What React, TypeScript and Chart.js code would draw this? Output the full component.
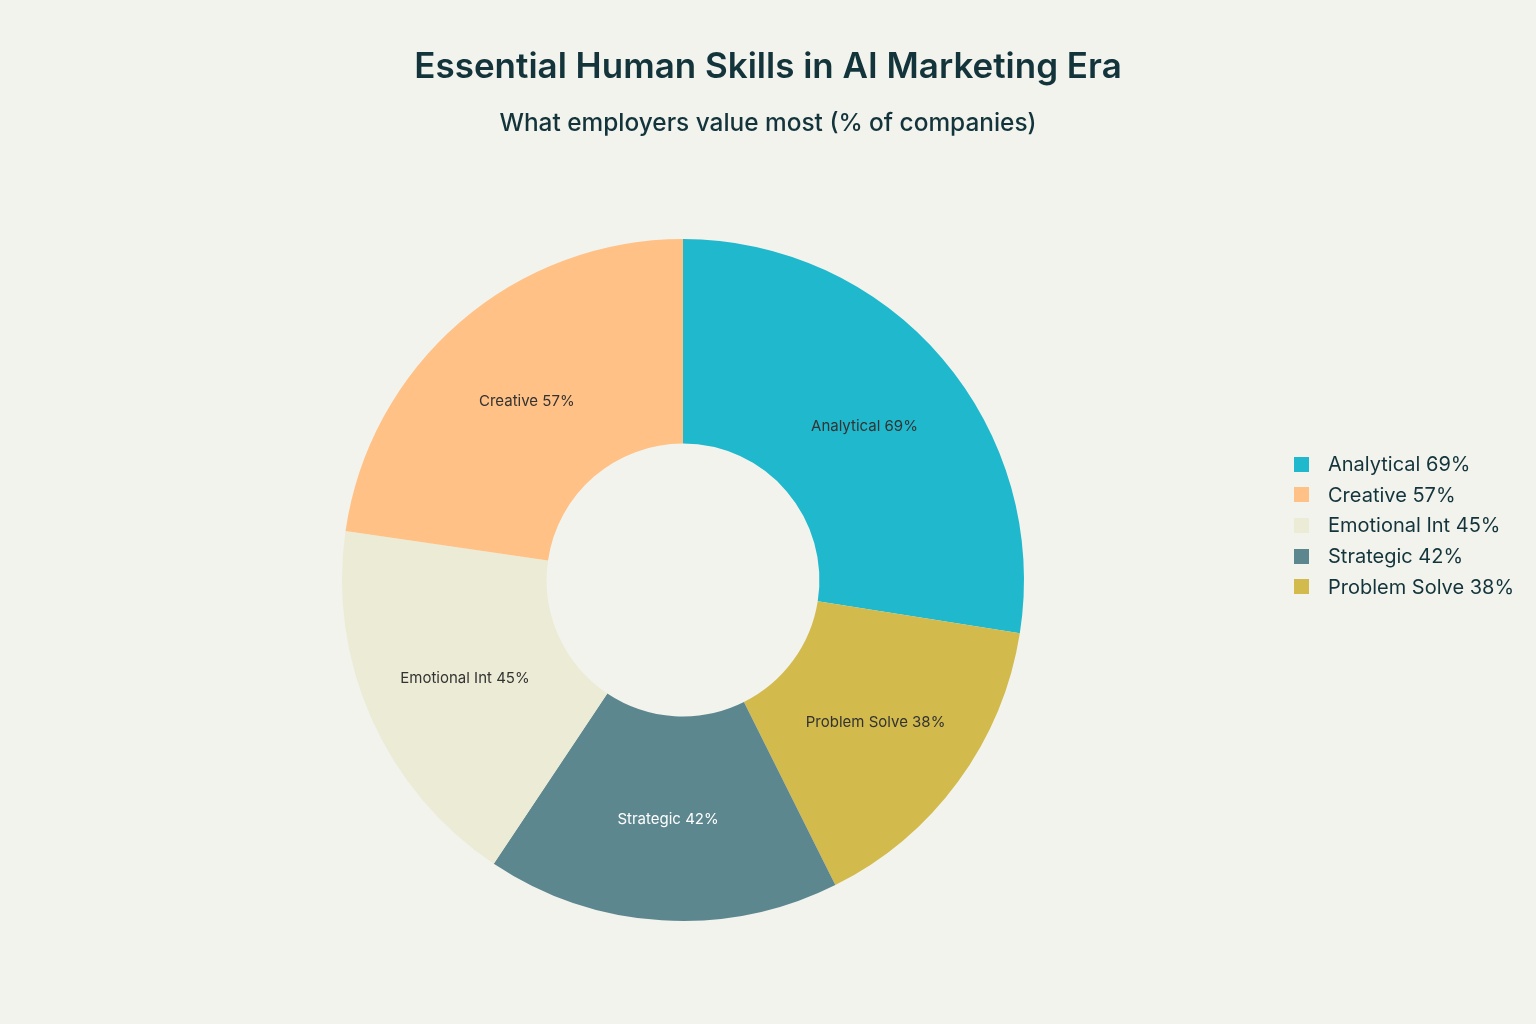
import { useEffect, useRef } from "react";
import { Chart } from "chart.js/auto";

// Legend order (sorted by share, as in the source)
const skills = ["Analytical", "Creative", "Emotional Int", "Strategic", "Problem Solve"];
const percents = [69, 57, 45, 42, 38];
const colors = ["#1FB8CD", "#FFC185", "#ECEBD5", "#5D878F", "#D2BA4C"];
const labelColors = ["#333333", "#333333", "#333333", "#FFFFFF", "#333333"];

// Clockwise drawing order from 12 o'clock (indices into the arrays above)
const sliceOrder = [0, 4, 3, 2, 1];

const TITLE = "Essential Human Skills in AI Marketing Era";
const SUBTITLE = "What employers value most (% of companies)";

const BG = "#F3F3EE";
const TEXT = "#13343B";

// labels in the middle of each slice
const sliceLabels = {
  id: "sliceLabels",
  afterDatasetsDraw(chart: Chart) {
    const { ctx } = chart;
    const meta = chart.getDatasetMeta(0);
    ctx.save();
    ctx.font = "15px Inter, 'Open Sans', sans-serif";
    ctx.textAlign = "center";
    ctx.textBaseline = "middle";
    meta.data.forEach((arc: any, i: number) => {
      const idx = sliceOrder[i];
      const p = arc.getCenterPoint();
      ctx.fillStyle = labelColors[idx];
      ctx.fillText(`${skills[idx]} ${percents[idx]}%`, p.x, p.y + 1.5);
    });
    ctx.restore();
  },
};

// title + subtitle centred on the whole canvas (the built-in ones follow the padded area)
const headings = {
  id: "headings",
  afterDraw(chart: Chart) {
    const { ctx, width } = chart;
    ctx.save();
    ctx.textAlign = "center";
    ctx.textBaseline = "middle";
    ctx.fillStyle = TEXT;
    ctx.font = "600 35px Inter, sans-serif";
    ctx.fillText(TITLE, width / 2, 67);
    ctx.font = "500 24.4px Inter, sans-serif";
    ctx.fillText(SUBTITLE, width / 2, 124);
    ctx.restore();
  },
};

export default function App() {
  const canvasRef = useRef<HTMLCanvasElement | null>(null);
  const chartRef = useRef<Chart | null>(null);

  useEffect(() => {
    document.body.style.margin = "0";
    if (!canvasRef.current) return;
    if (chartRef.current) chartRef.current.destroy();

    chartRef.current = new Chart(canvasRef.current, {
      type: "doughnut",
      data: {
        labels: sliceOrder.map((i) => skills[i]),
        datasets: [
          {
            data: sliceOrder.map((i) => percents[i]),
            backgroundColor: sliceOrder.map((i) => colors[i]),
            borderWidth: 0,
          },
        ],
      },
      options: {
        animation: false,
        responsive: true,
        maintainAspectRatio: false,
        cutout: "40%",
        layout: { padding: { top: 239, bottom: 103, left: 0, right: 170 } },
        plugins: {
          legend: { display: false }, // legend is rendered in HTML
          tooltip: { enabled: false },
        },
      },
      plugins: [sliceLabels, headings],
    });

    return () => {
      if (chartRef.current) chartRef.current.destroy();
    };
  }, []);

  return (
    <div style={{ position: "relative", width: 1536, height: 1024, background: BG, overflow: "hidden" }}>
      <canvas ref={canvasRef} />
      <div style={{ position: "absolute", left: 1294, top: 449, fontFamily: "Inter, sans-serif" }}>
        {skills.map((s, i) => (
          <div key={s} style={{ display: "flex", alignItems: "center", height: 30.6 }}>
            <span style={{ width: 15, height: 15, background: colors[i], marginRight: 19 }} />
            <span style={{ fontSize: 20, color: TEXT }}>{`${s} ${percents[i]}%`}</span>
          </div>
        ))}
      </div>
    </div>
  );
}
